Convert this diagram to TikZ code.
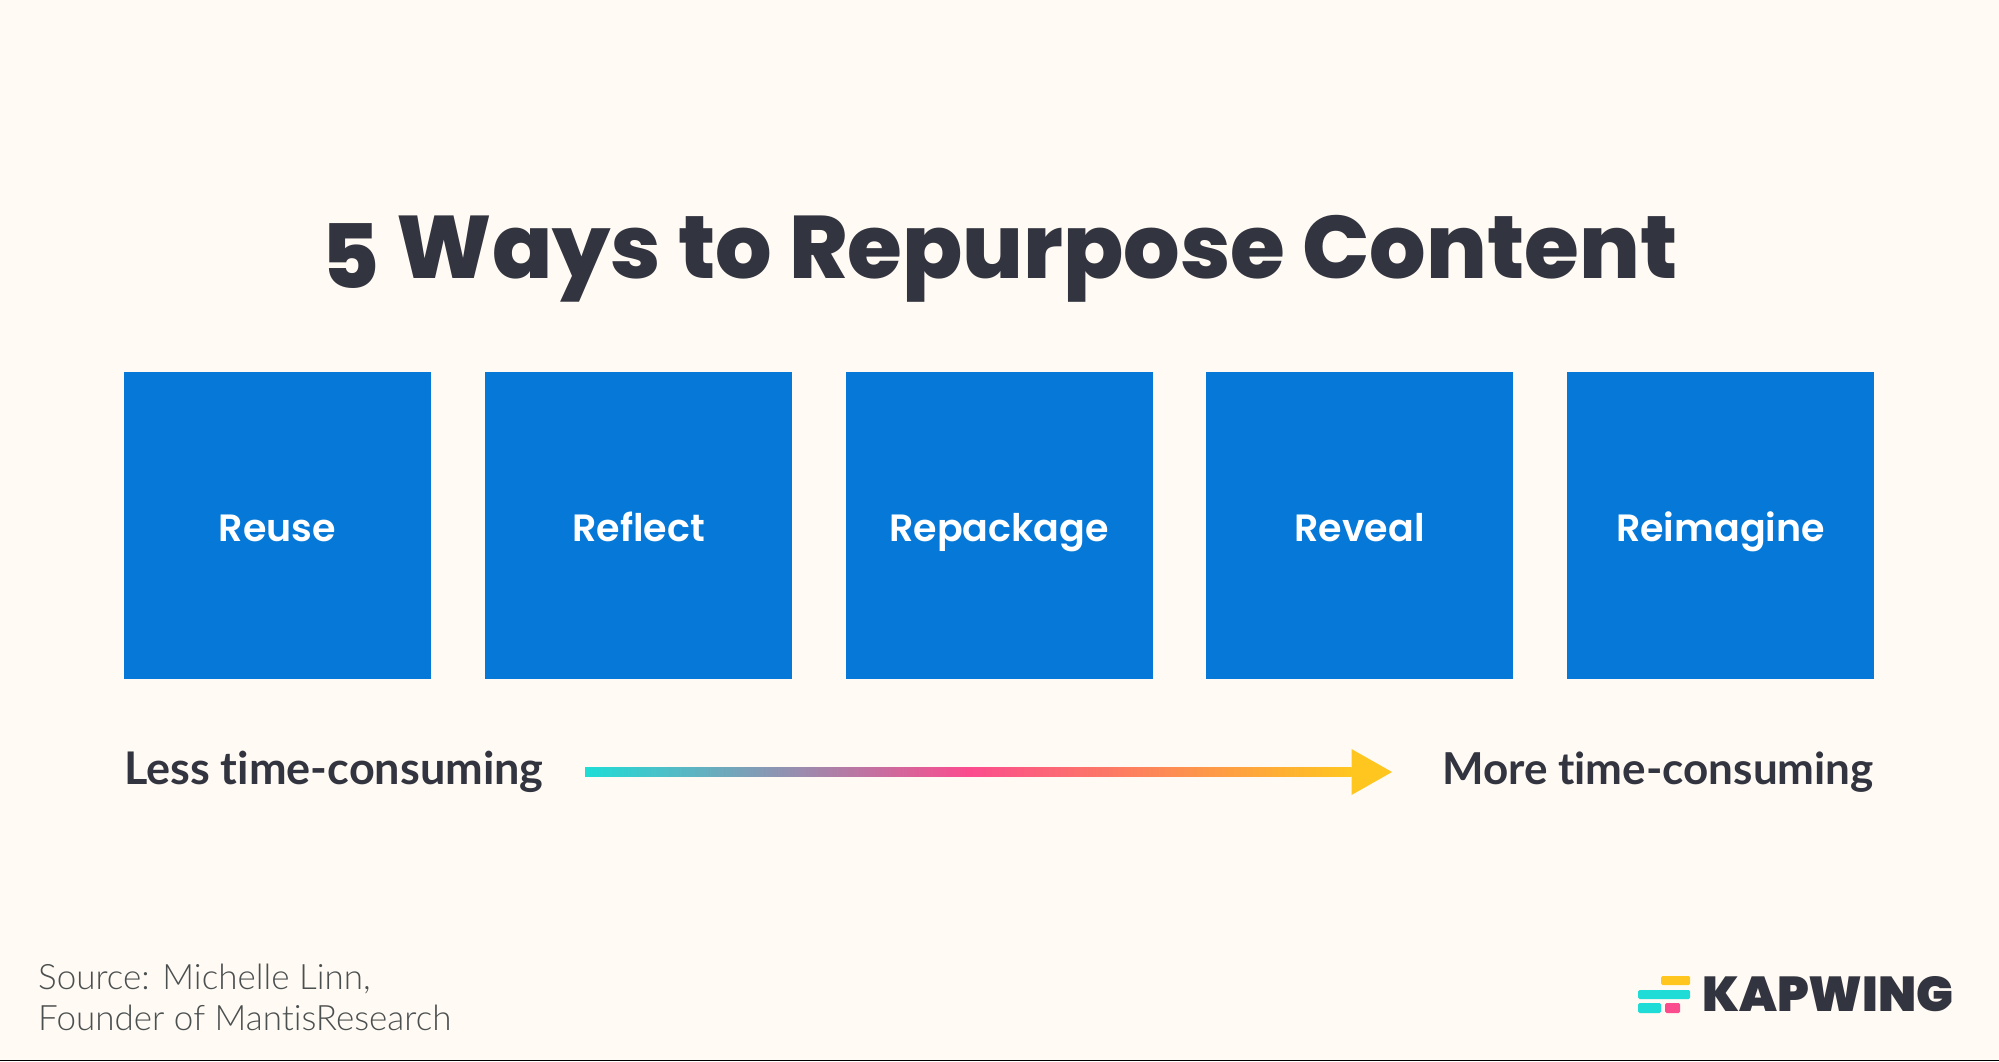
\documentclass[tikz,border=0pt]{standalone}
\usepackage{fontspec}
\setmainfont{Lato}
\newfontfamily\titlefont{Poppins ExtraBold}
\newfontfamily\boxfont{Poppins SemiBold}
\newfontfamily\labfont[Ligatures=NoCommon]{Lato Bold}
\newfontfamily\srcfont[Ligatures=NoCommon]{Lato Light}
\newfontfamily\logofont{Poppins Black}
\definecolor{bgc}{HTML}{FFFAF3}
\definecolor{ink}{HTML}{32343F}
\definecolor{boxc}{HTML}{0679D8}
\definecolor{teal}{HTML}{1FDDD6}
\definecolor{pinkc}{HTML}{FB4C8E}
\definecolor{yell}{HTML}{FFC61F}
\definecolor{srcc}{HTML}{4A4F50}
\pgfdeclarehorizontalshading{agrad}{100bp}{color(0bp)=(teal); color(25bp)=(teal); color(50bp)=(pinkc); color(75bp)=(yell); color(100bp)=(yell)}
\tikzset{
 wbox/.style={fill=boxc,text=white,minimum width=307pt,minimum height=307pt,inner sep=0pt,text height=36pt,text depth=4pt,font=\boxfont\fontsize{38}{46}\selectfont},
 tlabel/.style={text=ink,inner sep=0pt,font=\labfont\fontsize{45}{50}\selectfont},
 srclabel/.style={anchor=west,text=srcc,inner sep=0pt,font=\srcfont\fontsize{35}{40}\selectfont},
}
\begin{document}
\begin{tikzpicture}[x=1pt,y=-1pt]
\useasboundingbox (0,0) rectangle (1999,1061);
\fill[bgc] (0,0) rectangle (1999,1061);
\fill[black] (0,1059.5) rectangle (1999,1061);
\node[anchor=base,text=ink,inner sep=0pt,font=\titlefont\fontsize{88.8}{96}\selectfont] (title) at (999.5,278) {\raisebox{-10pt}{5} Ways to Repurpose Content};
\node[wbox] (b1) at (277.5,525.5) {Reuse};
\node[wbox] (b2) at (638.5,525.5) {Reflect};
\node[wbox] (b3) at (999,525.5) {Repackage};
\node[wbox] (b4) at (1359.5,525.5) {Reveal};
\node[wbox] (b5) at (1720.5,525.5) {Reimagine};
\node[tlabel,anchor=west] (less) at (124,772) {Less time-consuming};
\node[tlabel,anchor=east,font=\labfont\fontsize{44}{50}\selectfont] (more) at (1874,772) {More time-consuming};
\coordinate (as) at (585,772);
\coordinate (ae) at (1351.5,772);
\coordinate (at) at (1392,772);
\shade[shading=agrad] ([yshift=4.3pt]as) rectangle ([yshift=-4.3pt]ae);
\fill[yell] ([yshift=23pt]ae) -- (at) -- ([yshift=-23pt]ae) -- cycle;
\node[srclabel] (s1) at (38,979) {Source: Michelle Linn,};
\node[srclabel] (s2) at (38,1018) {Founder of MantisResearch};
\fill[yell,rounded corners=1.5pt] (1661,976) rectangle (1690,985);
\fill[teal,rounded corners=1.5pt] (1638,990) rectangle (1690,999);
\fill[teal,rounded corners=1.5pt] (1638,1003) rectangle (1661,1013);
\fill[pinkc,rounded corners=1.5pt] (1665,1003) rectangle (1680,1013);
\node[anchor=west,text=ink,inner sep=0pt,font=\logofont\fontsize{49}{56}\selectfont] (logo) at (1702,994.5) {KAPWING};
\end{tikzpicture}
\end{document}
